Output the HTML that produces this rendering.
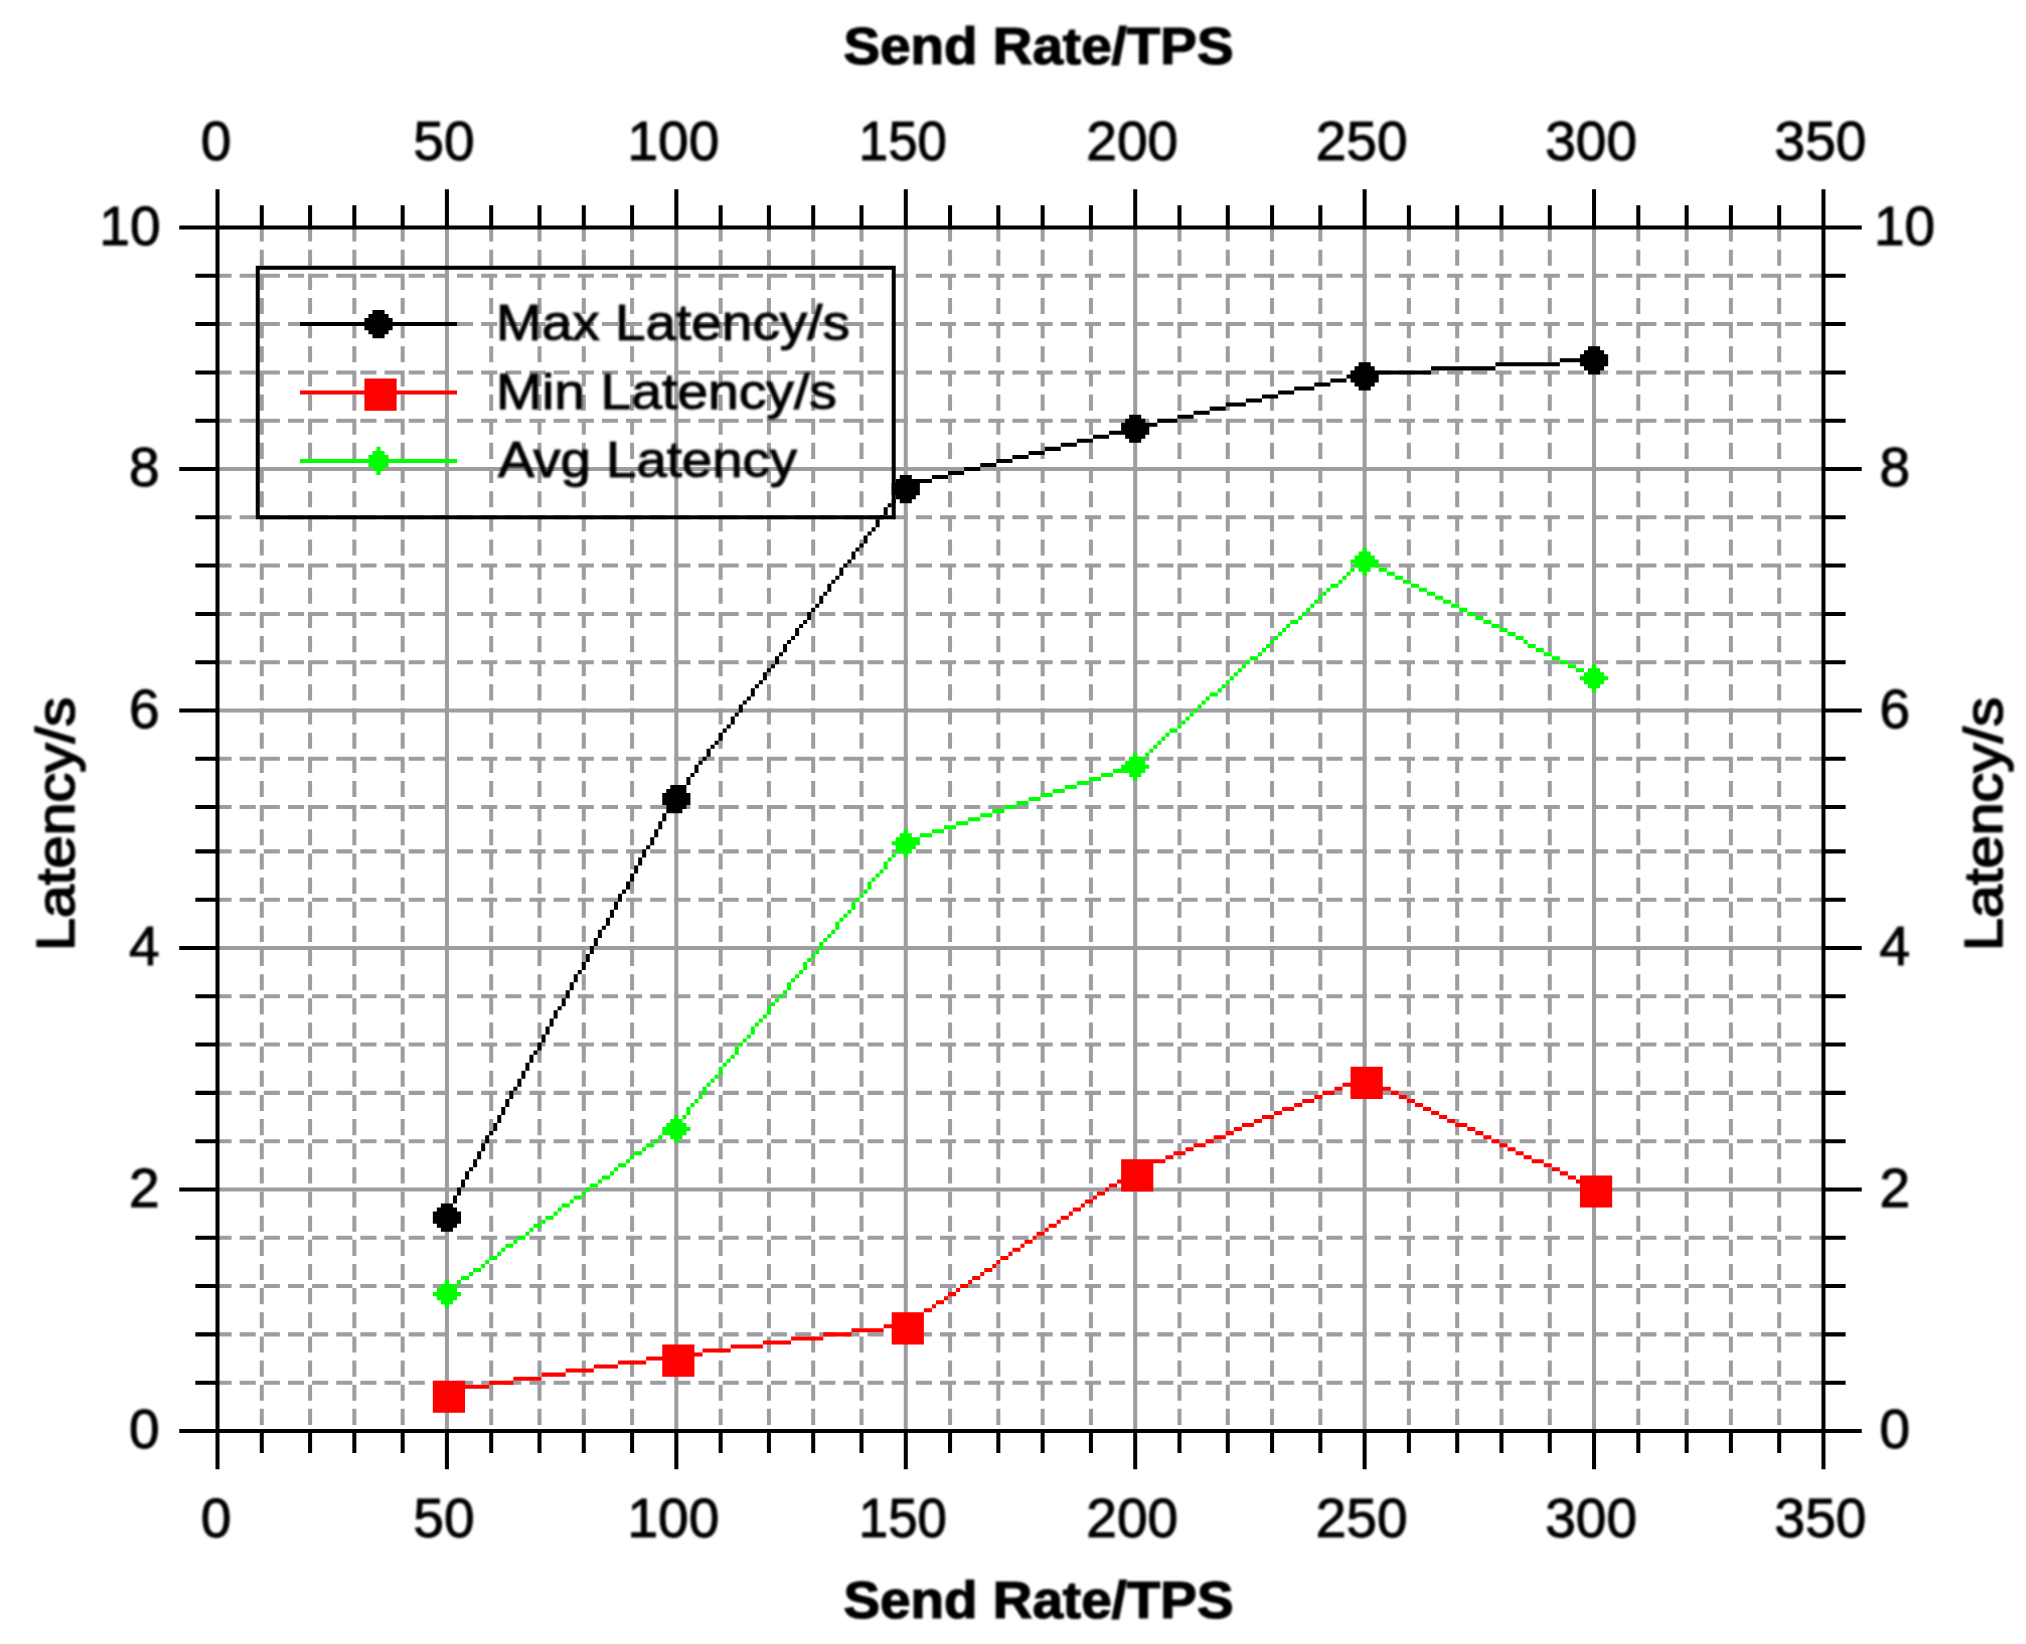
<!DOCTYPE html>
<html lang="en"><head><meta charset="utf-8"><title></title>
<style>html,body{margin:0;padding:0;background:#fff}body{width:2026px;height:1644px;overflow:hidden}svg{display:block}text{font-family:"Liberation Sans",sans-serif;fill:#000}</style>
</head><body>
<svg width="2026" height="1644" viewBox="0 0 2026 1644">
<rect width="2026" height="1644" fill="#fff"/>
<g transform="translate(215.49 225.49) scale(4.025)">
<path d="M11.5 0V300M23.5 0V300M34.5 0V300M46.5 0V300M68.5 0V300M80.5 0V300M91.5 0V300M103.5 0V300M125.5 0V300M137.5 0V300M148.5 0V300M160.5 0V300M182.5 0V300M194.5 0V300M205.5 0V300M217.5 0V300M239.5 0V300M251.5 0V300M262.5 0V300M274.5 0V300M296.5 0V300M308.5 0V300M319.5 0V300M331.5 0V300M353.5 0V300M365.5 0V300M376.5 0V300M388.5 0V300M0 287.5H400M0 275.5H400M0 263.5H400M0 251.5H400M0 227.5H400M0 215.5H400M0 203.5H400M0 191.5H400M0 167.5H400M0 155.5H400M0 144.5H400M0 132.5H400M0 108.5H400M0 96.5H400M0 84.5H400M0 72.5H400M0 48.5H400M0 36.5H400M0 24.5H400M0 12.5H400" fill="none" stroke="#9d9ca1" stroke-width="1" stroke-dasharray="4 2"/>
<path d="M57.5 0V300M114.5 0V300M171.5 0V300M228.5 0V300M285.5 0V300M342.5 0V300M0 239.5H400M0 179.5H400M0 120.5H400M0 60.5H400" fill="none" stroke="#9d9ca1" stroke-width="1"/>
<path d="M0.5 0V300M399.5 0V300M0 0.5H400M0 299.5H400M0.5 -9V0M0.5 300V309M57.5 -9V0M57.5 300V309M114.5 -9V0M114.5 300V309M171.5 -9V0M171.5 300V309M228.5 -9V0M228.5 300V309M285.5 -9V0M285.5 300V309M342.5 -9V0M342.5 300V309M399.5 -9V0M399.5 300V309M11.5 -5V0M11.5 300V305M23.5 -5V0M23.5 300V305M34.5 -5V0M34.5 300V305M46.5 -5V0M46.5 300V305M68.5 -5V0M68.5 300V305M80.5 -5V0M80.5 300V305M91.5 -5V0M91.5 300V305M103.5 -5V0M103.5 300V305M125.5 -5V0M125.5 300V305M137.5 -5V0M137.5 300V305M148.5 -5V0M148.5 300V305M160.5 -5V0M160.5 300V305M182.5 -5V0M182.5 300V305M194.5 -5V0M194.5 300V305M205.5 -5V0M205.5 300V305M217.5 -5V0M217.5 300V305M239.5 -5V0M239.5 300V305M251.5 -5V0M251.5 300V305M262.5 -5V0M262.5 300V305M274.5 -5V0M274.5 300V305M296.5 -5V0M296.5 300V305M308.5 -5V0M308.5 300V305M319.5 -5V0M319.5 300V305M331.5 -5V0M331.5 300V305M353.5 -5V0M353.5 300V305M365.5 -5V0M365.5 300V305M376.5 -5V0M376.5 300V305M388.5 -5V0M388.5 300V305M-9 299.5H0M400 299.5H409M-9 239.5H0M400 239.5H409M-9 179.5H0M400 179.5H409M-9 120.5H0M400 120.5H409M-9 60.5H0M400 60.5H409M-9 0.5H0M400 0.5H409M-5 287.5H0M400 287.5H405M-5 275.5H0M400 275.5H405M-5 263.5H0M400 263.5H405M-5 251.5H0M400 251.5H405M-5 227.5H0M400 227.5H405M-5 215.5H0M400 215.5H405M-5 203.5H0M400 203.5H405M-5 191.5H0M400 191.5H405M-5 167.5H0M400 167.5H405M-5 155.5H0M400 155.5H405M-5 144.5H0M400 144.5H405M-5 132.5H0M400 132.5H405M-5 108.5H0M400 108.5H405M-5 96.5H0M400 96.5H405M-5 84.5H0M400 84.5H405M-5 72.5H0M400 72.5H405M-5 48.5H0M400 48.5H405M-5 36.5H0M400 36.5H405M-5 24.5H0M400 24.5H405M-5 12.5H0M400 12.5H405" fill="none" stroke="#000" stroke-width="1"/>
<path d="M56 246h1v1h-1zM57 245h1v1h-1zM58 243h1v2h-1zM59 241h1v2h-1zM60 239h1v2h-1zM61 237h1v2h-1zM62 235h1v2h-1zM63 234h1v1h-1zM64 232h1v2h-1zM65 230h1v2h-1zM66 228h1v2h-1zM67 226h1v2h-1zM68 225h1v1h-1zM69 223h1v2h-1zM70 221h1v2h-1zM71 219h1v2h-1zM72 217h1v2h-1zM73 215h1v2h-1zM74 214h1v1h-1zM75 212h1v2h-1zM76 210h1v2h-1zM77 208h1v2h-1zM78 206h1v2h-1zM79 205h1v1h-1zM80 203h1v2h-1zM81 201h1v2h-1zM82 199h1v2h-1zM83 197h1v2h-1zM84 195h1v2h-1zM85 194h1v1h-1zM86 192h1v2h-1zM87 190h1v2h-1zM88 188h1v2h-1zM89 186h1v2h-1zM90 185h1v1h-1zM91 183h1v2h-1zM92 181h1v2h-1zM93 179h1v2h-1zM94 177h1v2h-1zM95 175h1v2h-1zM96 174h1v1h-1zM97 172h1v2h-1zM98 170h1v2h-1zM99 168h1v2h-1zM100 166h1v2h-1zM101 165h1v1h-1zM102 163h1v2h-1zM103 161h1v2h-1zM104 159h1v2h-1zM105 157h1v2h-1zM106 155h1v2h-1zM107 154h1v1h-1zM108 152h1v2h-1zM109 150h1v2h-1zM110 148h1v2h-1zM111 146h1v2h-1zM112 145h1v1h-1zM113 143h1v2h-1zM114 142h1v1h-1zM114 141h1v2h-1zM115 140h1v1h-1zM116 139h1v1h-1zM117 137h1v2h-1zM118 136h1v1h-1zM119 134h1v2h-1zM120 133h1v1h-1zM121 132h1v1h-1zM122 130h1v2h-1zM123 129h1v1h-1zM124 128h1v1h-1zM125 126h1v2h-1zM126 125h1v1h-1zM127 124h1v1h-1zM128 122h1v2h-1zM129 121h1v1h-1zM130 119h1v2h-1zM131 118h1v1h-1zM132 117h1v1h-1zM133 115h1v2h-1zM134 114h1v1h-1zM135 113h1v1h-1zM136 111h1v2h-1zM137 110h1v1h-1zM138 109h1v1h-1zM139 107h1v2h-1zM140 106h1v1h-1zM141 104h1v2h-1zM142 103h1v1h-1zM143 102h1v1h-1zM144 100h1v2h-1zM145 99h1v1h-1zM146 98h1v1h-1zM147 96h1v2h-1zM148 95h1v1h-1zM149 94h1v1h-1zM150 92h1v2h-1zM151 91h1v1h-1zM152 89h1v2h-1zM153 88h1v1h-1zM154 87h1v1h-1zM155 85h1v2h-1zM156 84h1v1h-1zM157 83h1v1h-1zM158 81h1v2h-1zM159 80h1v1h-1zM160 79h1v1h-1zM161 77h1v2h-1zM162 76h1v1h-1zM163 75h1v1h-1zM164 73h1v2h-1zM165 72h1v1h-1zM166 70h1v2h-1zM167 69h1v1h-1zM168 68h1v1h-1zM169 66h1v2h-1zM170 65h1v1h-1zM171 64h1v1h-1zM171 64h3v1h-3zM174 63h4v1h-4zM178 62h4v1h-4zM182 61h4v1h-4zM186 60h4v1h-4zM190 59h4v1h-4zM194 58h4v1h-4zM198 57h4v1h-4zM202 56h4v1h-4zM206 55h4v1h-4zM210 54h4v1h-4zM214 53h4v1h-4zM218 52h4v1h-4zM222 51h4v1h-4zM226 50h3v1h-3zM228 50h2v1h-2zM230 49h4v1h-4zM234 48h5v1h-5zM239 47h4v1h-4zM243 46h4v1h-4zM247 45h4v1h-4zM251 44h5v1h-5zM256 43h4v1h-4zM260 42h4v1h-4zM264 41h4v1h-4zM268 40h5v1h-5zM273 39h4v1h-4zM277 38h4v1h-4zM281 37h4v1h-4zM285 36h1v1h-1zM285 37h1v1h-1zM286 36h16v1h-16zM302 35h16v1h-16zM318 34h16v1h-16zM334 33h9v1h-9zM56 243h3v1h-3zM55 244h5v1h-5zM54 245h7v1h-7zM54 246h7v1h-7zM54 247h7v1h-7zM55 248h5v1h-5zM56 249h3v1h-3zM113 139h3v1h-3zM112 140h5v1h-5zM111 141h7v1h-7zM111 142h7v1h-7zM111 143h7v1h-7zM112 144h5v1h-5zM113 145h3v1h-3zM170 62h3v1h-3zM169 63h5v1h-5zM168 64h7v1h-7zM168 65h7v1h-7zM168 66h7v1h-7zM169 67h5v1h-5zM170 68h3v1h-3zM227 47h3v1h-3zM226 48h5v1h-5zM225 49h7v1h-7zM225 50h7v1h-7zM225 51h7v1h-7zM226 52h5v1h-5zM227 53h3v1h-3zM284 34h3v1h-3zM283 35h5v1h-5zM282 36h7v1h-7zM282 37h7v1h-7zM282 38h7v1h-7zM283 39h5v1h-5zM284 40h3v1h-3zM341 30h3v1h-3zM340 31h5v1h-5zM339 32h7v1h-7zM339 33h7v1h-7zM339 34h7v1h-7zM340 35h5v1h-5zM341 36h3v1h-3z" fill="#000000"/>
<path d="M57 289h4v1h-4zM61 288h7v1h-7zM68 287h6v1h-6zM74 286h7v1h-7zM81 285h6v1h-6zM87 284h7v1h-7zM94 283h6v1h-6zM100 282h7v1h-7zM107 281h6v1h-6zM113 280h2v1h-2zM114 280h7v1h-7zM121 279h7v1h-7zM128 278h8v1h-8zM136 277h7v1h-7zM143 276h8v1h-8zM151 275h7v1h-7zM158 274h8v1h-8zM166 273h6v1h-6zM171 273h1v1h-1zM172 272h1v1h-1zM173 271h2v1h-2zM175 270h1v1h-1zM176 269h2v1h-2zM178 268h1v1h-1zM179 267h2v1h-2zM181 266h1v1h-1zM182 265h2v1h-2zM184 264h1v1h-1zM185 263h2v1h-2zM187 262h1v1h-1zM188 261h2v1h-2zM190 260h1v1h-1zM191 259h2v1h-2zM193 258h1v1h-1zM194 257h1v1h-1zM195 256h2v1h-2zM197 255h1v1h-1zM198 254h2v1h-2zM200 253h1v1h-1zM201 252h2v1h-2zM203 251h1v1h-1zM204 250h2v1h-2zM206 249h1v1h-1zM207 248h2v1h-2zM209 247h1v1h-1zM210 246h2v1h-2zM212 245h1v1h-1zM213 244h2v1h-2zM215 243h1v1h-1zM216 242h2v1h-2zM218 241h1v1h-1zM219 240h2v1h-2zM221 239h1v1h-1zM222 238h2v1h-2zM224 237h1v1h-1zM225 236h2v1h-2zM227 235h1v1h-1zM228 234h1v1h-1zM228 234h3v1h-3zM231 233h2v1h-2zM233 232h3v1h-3zM236 231h2v1h-2zM238 230h3v1h-3zM241 229h2v1h-2zM243 228h3v1h-3zM246 227h2v1h-2zM248 226h3v1h-3zM251 225h2v1h-2zM253 224h2v1h-2zM255 223h3v1h-3zM258 222h2v1h-2zM260 221h3v1h-3zM263 220h2v1h-2zM265 219h3v1h-3zM268 218h2v1h-2zM270 217h3v1h-3zM273 216h2v1h-2zM275 215h3v1h-3zM278 214h2v1h-2zM280 213h3v1h-3zM283 212h2v1h-2zM285 211h1v1h-1zM285 212h2v1h-2zM287 213h2v1h-2zM289 214h3v1h-3zM292 215h2v1h-2zM294 216h2v1h-2zM296 217h2v1h-2zM298 218h2v1h-2zM300 219h2v1h-2zM302 220h2v1h-2zM304 221h2v1h-2zM306 222h2v1h-2zM308 223h3v1h-3zM311 224h2v1h-2zM313 225h2v1h-2zM315 226h2v1h-2zM317 227h2v1h-2zM319 228h2v1h-2zM321 229h2v1h-2zM323 230h2v1h-2zM325 231h2v1h-2zM327 232h3v1h-3zM330 233h2v1h-2zM332 234h2v1h-2zM334 235h2v1h-2zM336 236h2v1h-2zM338 237h2v1h-2zM340 238h2v1h-2zM342 239h1v1h-1zM54 287h8v8h-8zM111 278h8v8h-8zM168 270h8v8h-8zM225 232h8v8h-8zM282 209h8v8h-8zM339 236h8v8h-8z" fill="#ff0000"/>
<path d="M57 264h2v1h-2zM59 263h1v1h-1zM60 262h1v1h-1zM61 261h2v1h-2zM63 260h1v1h-1zM64 259h2v1h-2zM66 258h1v1h-1zM67 257h1v1h-1zM68 256h2v1h-2zM70 255h1v1h-1zM71 254h1v1h-1zM72 253h2v1h-2zM74 252h1v1h-1zM75 251h2v1h-2zM77 250h1v1h-1zM78 249h1v1h-1zM79 248h2v1h-2zM81 247h1v1h-1zM82 246h2v1h-2zM84 245h1v1h-1zM85 244h1v1h-1zM86 243h2v1h-2zM88 242h1v1h-1zM89 241h2v1h-2zM91 240h1v1h-1zM92 239h1v1h-1zM93 238h2v1h-2zM95 237h1v1h-1zM96 236h2v1h-2zM98 235h1v1h-1zM99 234h1v1h-1zM100 233h2v1h-2zM102 232h1v1h-1zM103 231h1v1h-1zM104 230h2v1h-2zM106 229h1v1h-1zM107 228h2v1h-2zM109 227h1v1h-1zM110 226h1v1h-1zM111 225h2v1h-2zM113 224h1v1h-1zM114 223h1v1h-1zM113 224h1v1h-1zM114 223h1v1h-1zM115 222h1v1h-1zM116 221h1v1h-1zM117 219h1v2h-1zM118 218h1v1h-1zM119 217h1v1h-1zM120 216h1v1h-1zM121 214h1v2h-1zM122 213h1v1h-1zM123 212h1v1h-1zM124 211h1v1h-1zM125 209h1v2h-1zM126 208h1v1h-1zM127 207h1v1h-1zM128 206h1v1h-1zM129 204h1v2h-1zM130 203h1v1h-1zM131 202h1v1h-1zM132 201h1v1h-1zM133 199h1v2h-1zM134 198h1v1h-1zM135 197h1v1h-1zM136 196h1v1h-1zM137 194h1v2h-1zM138 193h1v1h-1zM139 192h1v1h-1zM140 191h1v1h-1zM141 190h1v1h-1zM142 188h1v2h-1zM143 187h1v1h-1zM144 186h1v1h-1zM145 185h1v1h-1zM146 183h1v2h-1zM147 182h1v1h-1zM148 181h1v1h-1zM149 180h1v1h-1zM150 178h1v2h-1zM151 177h1v1h-1zM152 176h1v1h-1zM153 175h1v1h-1zM154 173h1v2h-1zM155 172h1v1h-1zM156 171h1v1h-1zM157 170h1v1h-1zM158 168h1v2h-1zM159 167h1v1h-1zM160 166h1v1h-1zM161 165h1v1h-1zM162 163h1v2h-1zM163 162h1v1h-1zM164 161h1v1h-1zM165 160h1v1h-1zM166 158h1v2h-1zM167 157h1v1h-1zM168 156h1v1h-1zM169 155h1v1h-1zM170 154h1v1h-1zM171 153h1v1h-1zM171 153h1v1h-1zM172 152h3v1h-3zM175 151h3v1h-3zM178 150h3v1h-3zM181 149h3v1h-3zM184 148h3v1h-3zM187 147h3v1h-3zM190 146h3v1h-3zM193 145h3v1h-3zM196 144h3v1h-3zM199 143h3v1h-3zM202 142h3v1h-3zM205 141h3v1h-3zM208 140h3v1h-3zM211 139h3v1h-3zM214 138h3v1h-3zM217 137h3v1h-3zM220 136h3v1h-3zM223 135h3v1h-3zM226 134h3v1h-3zM228 134h1v1h-1zM229 133h1v1h-1zM230 132h1v1h-1zM231 131h1v1h-1zM232 130h1v1h-1zM233 129h1v1h-1zM234 128h1v1h-1zM235 127h1v1h-1zM236 126h1v1h-1zM237 125h2v1h-2zM239 124h1v1h-1zM240 123h1v1h-1zM241 122h1v1h-1zM242 121h1v1h-1zM243 120h1v1h-1zM244 119h1v1h-1zM245 118h1v1h-1zM246 117h1v1h-1zM247 116h2v1h-2zM249 115h1v1h-1zM250 114h1v1h-1zM251 113h1v1h-1zM252 112h1v1h-1zM253 111h1v1h-1zM254 110h1v1h-1zM255 109h1v1h-1zM256 108h1v1h-1zM257 107h2v1h-2zM259 106h1v1h-1zM260 105h1v1h-1zM261 104h1v1h-1zM262 103h1v1h-1zM263 102h1v1h-1zM264 101h1v1h-1zM265 100h1v1h-1zM266 99h1v1h-1zM267 98h2v1h-2zM269 97h1v1h-1zM270 96h1v1h-1zM271 95h1v1h-1zM272 94h1v1h-1zM273 93h1v1h-1zM274 92h1v1h-1zM275 91h1v1h-1zM276 90h1v1h-1zM277 89h2v1h-2zM279 88h1v1h-1zM280 87h1v1h-1zM281 86h1v1h-1zM282 85h1v1h-1zM283 84h1v1h-1zM284 83h1v1h-1zM285 82h1v1h-1zM285 83h2v1h-2zM287 84h2v1h-2zM289 85h2v1h-2zM291 86h2v1h-2zM293 87h2v1h-2zM295 88h2v1h-2zM297 89h2v1h-2zM299 90h2v1h-2zM301 91h2v1h-2zM303 92h2v1h-2zM305 93h2v1h-2zM307 94h2v1h-2zM309 95h2v1h-2zM311 96h2v1h-2zM313 97h2v1h-2zM315 98h2v1h-2zM317 99h2v1h-2zM319 100h2v1h-2zM321 101h2v1h-2zM323 102h2v1h-2zM325 103h1v1h-1zM326 104h2v1h-2zM328 105h2v1h-2zM330 106h2v1h-2zM332 107h2v1h-2zM334 108h2v1h-2zM336 109h2v1h-2zM338 110h2v1h-2zM340 111h2v1h-2zM342 112h1v1h-1zM57 262h1v1h-1zM56 263h3v1h-3zM55 264h5v1h-5zM54 265h7v1h-7zM55 266h5v1h-5zM56 267h3v1h-3zM57 268h1v1h-1zM114 221h1v1h-1zM113 222h3v1h-3zM112 223h5v1h-5zM111 224h7v1h-7zM112 225h5v1h-5zM113 226h3v1h-3zM114 227h1v1h-1zM171 150h1v1h-1zM170 151h3v1h-3zM169 152h5v1h-5zM168 153h7v1h-7zM169 154h5v1h-5zM170 155h3v1h-3zM171 156h1v1h-1zM228 131h1v1h-1zM227 132h3v1h-3zM226 133h5v1h-5zM225 134h7v1h-7zM226 135h5v1h-5zM227 136h3v1h-3zM228 137h1v1h-1zM285 80h1v1h-1zM284 81h3v1h-3zM283 82h5v1h-5zM282 83h7v1h-7zM283 84h5v1h-5zM284 85h3v1h-3zM285 86h1v1h-1zM342 109h1v1h-1zM341 110h3v1h-3zM340 111h5v1h-5zM339 112h7v1h-7zM340 113h5v1h-5zM341 114h3v1h-3zM342 115h1v1h-1z" fill="#00ff00"/>
<rect x="10.5" y="10.5" width="158" height="62" fill="none" stroke="#000" stroke-width="1"/>
<path d="M21 24h39v1h-39zM39 21h3v1h-3zM38 22h5v1h-5zM37 23h7v1h-7zM37 24h7v1h-7zM37 25h7v1h-7zM38 26h5v1h-5zM39 27h3v1h-3z" fill="#000000"/>
<path d="M21 41h39v1h-39zM37 38h8v8h-8z" fill="#ff0000"/>
<path d="M21 58h39v1h-39zM40 55h1v1h-1zM39 56h3v1h-3zM38 57h5v1h-5zM37 58h7v1h-7zM38 59h5v1h-5zM39 60h3v1h-3zM40 61h1v1h-1z" fill="#00ff00"/>
</g>
<defs><filter id="soft" x="-5%" y="-20%" width="110%" height="140%"><feGaussianBlur stdDeviation="0.9"/></filter></defs>
<g filter="url(#soft)">
<text x="216.0" y="160" font-size="55" text-anchor="middle" stroke="#000" stroke-width="1">0</text>
<text x="216.0" y="1536.5" font-size="55" text-anchor="middle" stroke="#000" stroke-width="1">0</text>
<text x="443.9" y="160" font-size="55" text-anchor="middle" stroke="#000" stroke-width="1">50</text>
<text x="443.9" y="1536.5" font-size="55" text-anchor="middle" stroke="#000" stroke-width="1">50</text>
<text x="673.4" y="160" font-size="55" text-anchor="middle" stroke="#000" stroke-width="1">100</text>
<text x="673.4" y="1536.5" font-size="55" text-anchor="middle" stroke="#000" stroke-width="1">100</text>
<text x="902.8" y="160" font-size="55" text-anchor="middle" stroke="#000" stroke-width="1" textLength="88" lengthAdjust="spacingAndGlyphs">150</text>
<text x="902.8" y="1536.5" font-size="55" text-anchor="middle" stroke="#000" stroke-width="1" textLength="88" lengthAdjust="spacingAndGlyphs">150</text>
<text x="1132.2" y="160" font-size="55" text-anchor="middle" stroke="#000" stroke-width="1">200</text>
<text x="1132.2" y="1536.5" font-size="55" text-anchor="middle" stroke="#000" stroke-width="1">200</text>
<text x="1361.6" y="160" font-size="55" text-anchor="middle" stroke="#000" stroke-width="1">250</text>
<text x="1361.6" y="1536.5" font-size="55" text-anchor="middle" stroke="#000" stroke-width="1">250</text>
<text x="1591.1" y="160" font-size="55" text-anchor="middle" stroke="#000" stroke-width="1">300</text>
<text x="1591.1" y="1536.5" font-size="55" text-anchor="middle" stroke="#000" stroke-width="1">300</text>
<text x="1820.5" y="160" font-size="55" text-anchor="middle" stroke="#000" stroke-width="1">350</text>
<text x="1820.5" y="1536.5" font-size="55" text-anchor="middle" stroke="#000" stroke-width="1">350</text>
<text x="159.5" y="1448.0" font-size="55" text-anchor="end" stroke="#000" stroke-width="1">0</text>
<text x="1879.5" y="1448.0" font-size="55" text-anchor="start" stroke="#000" stroke-width="1">0</text>
<text x="159.5" y="1206.5" font-size="55" text-anchor="end" stroke="#000" stroke-width="1">2</text>
<text x="1879.5" y="1206.5" font-size="55" text-anchor="start" stroke="#000" stroke-width="1">2</text>
<text x="159.5" y="965.0" font-size="55" text-anchor="end" stroke="#000" stroke-width="1">4</text>
<text x="1879.5" y="965.0" font-size="55" text-anchor="start" stroke="#000" stroke-width="1">4</text>
<text x="159.5" y="727.5" font-size="55" text-anchor="end" stroke="#000" stroke-width="1">6</text>
<text x="1879.5" y="727.5" font-size="55" text-anchor="start" stroke="#000" stroke-width="1">6</text>
<text x="159.5" y="486.0" font-size="55" text-anchor="end" stroke="#000" stroke-width="1">8</text>
<text x="1879.5" y="486.0" font-size="55" text-anchor="start" stroke="#000" stroke-width="1">8</text>
<text x="160.5" y="244.5" font-size="55" text-anchor="end" stroke="#000" stroke-width="1">10</text>
<text x="1874" y="244.5" font-size="55" text-anchor="start" stroke="#000" stroke-width="1">10</text>
<text x="1038.5" y="64" font-size="51" font-weight="bold" text-anchor="middle" textLength="390" lengthAdjust="spacingAndGlyphs" stroke="#000" stroke-width="1.2">Send Rate/TPS</text>
<text x="1038.5" y="1618" font-size="51" font-weight="bold" text-anchor="middle" textLength="390" lengthAdjust="spacingAndGlyphs" stroke="#000" stroke-width="1.2">Send Rate/TPS</text>
<text transform="translate(74 824) rotate(-90)" font-size="53.5" text-anchor="middle" textLength="254" lengthAdjust="spacingAndGlyphs" stroke="#000" stroke-width="1.7" stroke-linejoin="round">Latency/s</text>
<text transform="translate(2002 824) rotate(-90)" font-size="53.5" text-anchor="middle" textLength="254" lengthAdjust="spacingAndGlyphs" stroke="#000" stroke-width="1.7" stroke-linejoin="round">Latency/s</text>
<text x="496" y="340" font-size="50" textLength="354" lengthAdjust="spacingAndGlyphs" stroke="#000" stroke-width="1">Max Latency/s</text>
<text x="496" y="409" font-size="50" textLength="341" lengthAdjust="spacingAndGlyphs" stroke="#000" stroke-width="1">Min Latency/s</text>
<text x="498" y="477" font-size="50" textLength="299" lengthAdjust="spacingAndGlyphs" stroke="#000" stroke-width="1">Avg Latency</text>
</g>
</svg></body></html>
